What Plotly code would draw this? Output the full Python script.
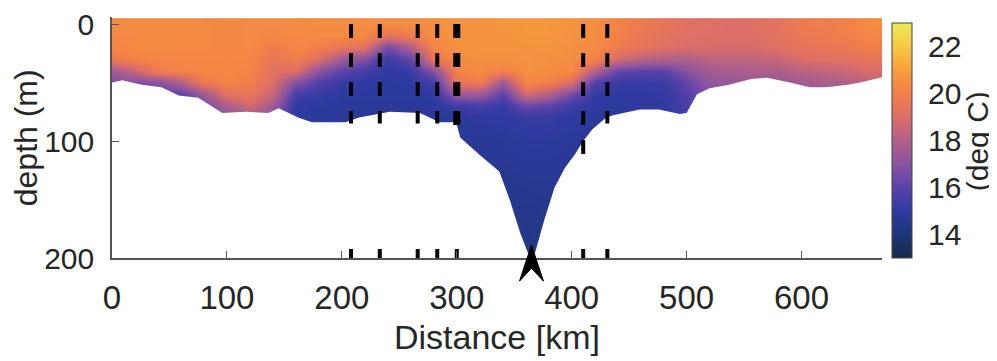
import plotly.graph_objects as go

# ---------------- data ----------------
distance_km = [0, 20, 40, 60, 80, 100, 120, 140, 160, 180, 200, 220, 240, 260, 280, 300, 320,
               340, 360, 380, 400, 420, 440, 460, 480, 500, 520, 540, 560, 580, 600, 620, 640,
               660, 680]
depth_levels = [0, 10, 20, 30, 40, 50, 60, 70, 80, 100, 130, 160, 200]

temp_0 = [20.3, 20.3, 20.3, 20.3, 20.3, 20.2, 20.3, 20.3, 20.3, 20.4, 20.4, 20.4, 20.4, 20.4, 20.5, 20.6, 20.6,
          20.7, 20.7, 20.7, 20.6, 20.4, 20.1, 19.7, 19.4, 19.2, 19.1, 19.0, 19.1, 19.4, 19.7, 19.8, 20.0,
          20.4, 20.4]
temp_10 = [20.3, 20.3, 20.3, 20.3, 20.3, 20.2, 20.3, 20.2, 20.3, 20.3, 20.3, 20.2, 19.3, 19.8, 20.4, 20.6, 20.6,
           20.6, 20.7, 20.7, 20.6, 20.4, 20.0, 19.6, 19.3, 19.1, 19.0, 19.0, 19.0, 19.3, 19.6, 19.7, 19.9,
           20.2, 20.2]
temp_20 = [20.2, 20.3, 20.3, 20.3, 20.3, 20.2, 20.3, 19.8, 20.2, 20.0, 19.5, 19.2, 16.5, 18.0, 20.2, 20.5, 20.6,
           20.6, 20.6, 20.6, 20.5, 20.3, 19.8, 19.4, 19.1, 18.9, 18.9, 18.8, 18.9, 19.1, 19.4, 19.5, 19.6,
           19.9, 19.9]
temp_30 = [19.6, 20.1, 20.2, 20.2, 20.2, 20.2, 20.2, 19.5, 19.9, 19.0, 17.5, 16.8, 15.3, 16.2, 19.5, 20.4, 20.5,
           20.5, 20.6, 20.5, 20.4, 20.0, 18.8, 18.2, 18.0, 18.0, 18.3, 18.3, 18.4, 18.5, 19.0, 19.1, 19.2,
           19.4, 19.4]
temp_40 = [17.5, 18.5, 19.8, 20.1, 20.2, 20.2, 20.1, 19.2, 19.0, 17.0, 16.0, 15.5, 15.0, 15.2, 17.0, 20.1, 20.3,
           20.0, 20.5, 20.4, 20.3, 18.0, 16.2, 16.0, 16.0, 17.0, 17.6, 17.8, 17.9, 17.9, 18.2, 18.4, 18.6,
           18.9, 18.9]
temp_50 = [16.8, 16.8, 17.0, 18.0, 19.8, 20.1, 19.9, 19.0, 17.0, 15.8, 15.2, 15.0, 14.9, 15.0, 15.5, 19.5, 19.8,
           17.5, 20.2, 20.0, 19.0, 15.8, 15.2, 15.2, 15.3, 16.2, 17.2, 17.4, 17.4, 17.4, 17.6, 17.8, 18.0,
           18.3, 18.3]
temp_60 = [16.5, 16.0, 16.0, 16.0, 17.5, 19.3, 19.5, 18.5, 15.5, 15.2, 14.9, 14.9, 14.9, 14.9, 15.0, 17.5, 17.5,
           16.0, 18.8, 18.0, 16.5, 15.1, 15.0, 15.0, 15.1, 15.8, 17.0, 17.2, 17.2, 17.2, 17.3, 17.5, 17.6,
           17.8, 17.8]
temp_70 = [16.5, 16.0, 16.0, 16.0, 16.5, 17.8, 18.8, 17.5, 15.0, 14.9, 14.8, 14.8, 14.8, 14.8, 14.9, 15.3, 15.5,
           15.2, 16.3, 16.0, 15.3, 15.0, 14.9, 15.0, 15.0, 15.6, 16.9, 17.1, 17.1, 17.1, 17.1, 17.3, 17.4,
           17.6, 17.6]
temp_80 = [16.5, 16.0, 16.0, 16.0, 16.5, 17.0, 17.5, 17.0, 15.0, 14.8, 14.8, 14.8, 14.8, 14.8, 14.8, 14.9, 15.0,
           15.0, 15.2, 15.2, 15.0, 14.9, 14.9, 15.0, 15.0, 15.4, 16.8, 17.0, 17.0, 17.0, 17.0, 17.2, 17.3,
           17.5, 17.5]
temp_100 = [16.5, 16.0, 16.0, 16.0, 16.5, 17.0, 17.5, 17.0, 15.0, 14.8, 14.7, 14.7, 14.7, 14.7, 14.7, 14.8, 14.7,
            14.8, 14.9, 14.9, 14.8, 14.8, 14.8, 15.0, 15.0, 15.4, 16.8, 17.0, 17.0, 17.0, 17.0, 17.2, 17.3,
            17.5, 17.5]
temp_130 = [16.5, 16.0, 16.0, 16.0, 16.5, 17.0, 17.5, 17.0, 15.0, 14.8, 14.7, 14.7, 14.7, 14.7, 14.7, 14.7, 14.7,
            14.6, 14.7, 14.7, 14.7, 14.8, 14.8, 15.0, 15.0, 15.4, 16.8, 17.0, 17.0, 17.0, 17.0, 17.2, 17.3,
            17.5, 17.5]
temp_160 = [16.5, 16.0, 16.0, 16.0, 16.5, 17.0, 17.5, 17.0, 15.0, 14.8, 14.7, 14.7, 14.7, 14.7, 14.7, 14.7, 14.7,
            14.6, 14.5, 14.6, 14.7, 14.8, 14.8, 15.0, 15.0, 15.4, 16.8, 17.0, 17.0, 17.0, 17.0, 17.2, 17.3,
            17.5, 17.5]
temp_200 = [16.5, 16.0, 16.0, 16.0, 16.5, 17.0, 17.5, 17.0, 15.0, 14.8, 14.7, 14.7, 14.7, 14.7, 14.7, 14.7, 14.7,
            14.6, 14.3, 14.5, 14.7, 14.8, 14.8, 15.0, 15.0, 15.4, 16.8, 17.0, 17.0, 17.0, 17.0, 17.2, 17.3,
            17.5, 17.5]

# deepest sampled depth along the section (lower edge of coloured area)
bottom_km = [0, 9, 26, 43, 58, 75, 96, 116, 136, 145, 162, 174, 203, 215, 242, 268, 285, 297,
             300, 303, 311, 320, 337, 346, 355, 362, 368, 376, 385, 394, 403, 410, 418, 430,
             436, 459, 476, 494, 500, 509, 520, 537, 556, 570, 590, 607, 622, 640, 651, 672]
bottom_depth = [50, 48, 52, 54, 61, 63, 76, 75, 76, 72, 80, 84, 84, 80, 75, 76, 84, 84,
                86, 97, 104, 112, 126, 150, 178, 196, 196, 168, 140, 123, 111, 100, 90, 80,
                78, 73, 73, 77, 76, 60, 55, 52, 47, 46, 50, 54, 54, 52, 50, 45]

# dashed vertical station lines
station_km = [208, 233, 266, 283, 410, 431]
station_end_depth = [85, 85, 85, 85, 118, 85]
thick_station_km = 300
thick_station_end_depth = 95

arrow_km = 365
arrow_depth = 189

x_ticks = [0, 100, 200, 300, 400, 500, 600]
y_ticks = [0, 100, 200]
cbar_ticks = [14, 16, 18, 20, 22]
t_min, t_max = 13, 23
x_range = [0, 670]
y_range = [200, -6]

# ---------------- figure ----------------
colorscale = [
    [0.0, '#172a48'], [0.1, '#1d3678'], [0.2, '#2e3aa0'], [0.3, '#5a42aa'],
    [0.4, '#8a54a0'], [0.5, '#b0608a'], [0.6, '#dc6e68'], [0.7, '#f28048'],
    [0.8, '#f7a03a'], [0.9, '#f5c843'], [1.0, '#ecec55'],
]

z = [temp_0, temp_10, temp_20, temp_30, temp_40, temp_50, temp_60, temp_70, temp_80,
     temp_100, temp_130, temp_160, temp_200]

fig = go.Figure()
fig.add_trace(go.Heatmap(
    x=distance_km, y=depth_levels, z=z, zmin=t_min, zmax=t_max,
    colorscale=colorscale, zsmooth='best', hoverinfo='skip',
    colorbar=dict(
        x=1.013, xanchor='left', xpad=0, y=0.488, yanchor='middle', ypad=0,
        lenmode='pixels', len=235, thicknessmode='pixels', thickness=20,
        outlinewidth=1, outlinecolor='#444',
        tickvals=cbar_ticks, ticks='outside', ticklen=10, tickcolor='rgba(0,0,0,0)',
        tickfont=dict(size=30, color='#262626'),
    ),
))

# white area below the sampled region
pad_left, pad_right, pad_bottom = -15, 690, 215
fill_x = [pad_left] + bottom_km + [pad_right, pad_right, pad_left]
fill_y = [bottom_depth[0]] + bottom_depth + [bottom_depth[-1], pad_bottom, pad_bottom]
fig.add_trace(go.Scatter(x=fill_x, y=fill_y, fill='toself', fillcolor='white',
                         mode='lines', line=dict(width=0, color='white'), hoverinfo='skip'))

# dashed station lines
lx, ly = [], []
for k, d in zip(station_km, station_end_depth):
    lx += [k, k, None]
    ly += [0, d, None]
fig.add_trace(go.Scatter(x=lx, y=ly, mode='lines',
                         line=dict(color='black', width=4, dash='14px,15px'), hoverinfo='skip'))
fig.add_trace(go.Scatter(x=[thick_station_km, thick_station_km], y=[0, thick_station_end_depth],
                         mode='lines', line=dict(color='black', width=7, dash='14px,15px'),
                         hoverinfo='skip'))
# small marks on the bottom axis
fig.add_trace(go.Scatter(x=station_km + [thick_station_km], y=[196.5] * (len(station_km) + 1),
                         mode='markers', marker=dict(symbol='line-ns', size=7,
                                                     line=dict(color='black', width=4)),
                         hoverinfo='skip'))

# arrow head marker (drawn in paper coordinates so it can leave the plot area)
px_w = 770.0
px_h = 241.0
ax = (arrow_km - x_range[0]) / (x_range[1] - x_range[0])
ay = (y_range[0] - arrow_depth) / (y_range[0] - y_range[1])
pts = [(0, 0), (-12, -36), (0, -23), (12, -36)]
path = 'M ' + ' L '.join(f'{ax + dx / px_w:.5f},{ay + dy / px_h:.5f}' for dx, dy in pts) + ' Z'
fig.add_shape(type='path', path=path, xref='paper', yref='paper',
              fillcolor='black', line=dict(color='black', width=1), layer='above')

# the page body has an 8px margin, so the figure is drawn 8px smaller and offset
font_family = 'Arial, Liberation Sans, Helvetica, sans-serif'
fig.update_layout(
    width=989, height=353,
    margin=dict(l=104, r=115, t=9, b=103, autoexpand=False),
    paper_bgcolor='white', plot_bgcolor='white', showlegend=False,
    font=dict(family=font_family, color='#262626'),
    xaxis=dict(range=x_range, tickvals=x_ticks, ticks='inside', ticklen=7, tickwidth=1.2,
               tickcolor='#555', showline=True, linecolor='#555', linewidth=1.5,
               showgrid=False, zeroline=False, tickfont=dict(size=33, color='#262626'),
               ticklabelstandoff=10, automargin=False, ticklabeloverflow='allow'),
    yaxis=dict(range=y_range, tickvals=y_ticks, ticks='inside', ticklen=7, tickwidth=1.2,
               tickcolor='#555', showline=True, linecolor='#555', linewidth=1.5,
               showgrid=False, zeroline=False, tickfont=dict(size=30, color='#262626'),
               ticklabelstandoff=10, automargin=False, ticklabeloverflow='allow'),
    annotations=[
        dict(text='Distance [km]', xref='paper', yref='paper', x=0.5, y=-0.326,
             xanchor='center', yanchor='middle', showarrow=False,
             font=dict(size=34, color='#262626')),
        dict(text='depth (m)', xref='paper', yref='paper', x=-0.112, y=0.5,
             xanchor='center', yanchor='middle', textangle=-90, showarrow=False,
             font=dict(size=32, color='#262626')),
        dict(text='(deg C)', xref='paper', yref='paper', x=1.125, y=0.4855,
             xanchor='center', yanchor='middle', textangle=-90, showarrow=False,
             font=dict(size=30, color='#262626')),
    ],
)

fig.write_html('out.html')
